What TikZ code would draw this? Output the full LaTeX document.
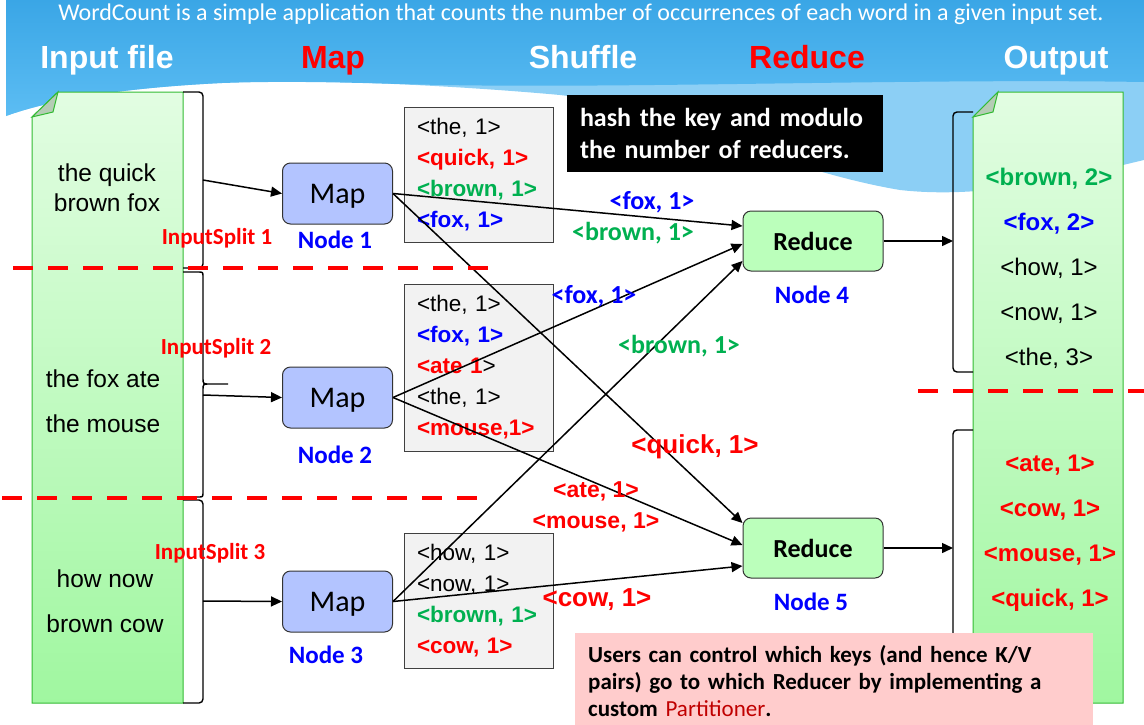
\documentclass[tikz,border=0pt]{standalone}
\usepackage{fontspec}
\setmainfont{Liberation Sans}
\newfontfamily\carlito{Carlito}
\usetikzlibrary{arrows.meta,positioning,calc,shapes.geometric}
\definecolor{skytop}{RGB}{58,166,230}
\definecolor{skybot}{RGB}{92,189,243}
\definecolor{skylight}{RGB}{140,207,245}
\definecolor{docgreen}{RGB}{51,187,51}
\definecolor{doctop}{RGB}{226,253,226}
\definecolor{docbot}{RGB}{160,247,160}
\definecolor{foldgray}{RGB}{181,204,181}
\definecolor{mapblue}{RGB}{179,196,255}
\definecolor{redgreen}{RGB}{187,255,187}
\definecolor{kvgray}{RGB}{242,242,242}
\definecolor{kvgreen}{RGB}{0,176,80}
\definecolor{hintpink}{RGB}{255,204,204}
\definecolor{partred}{RGB}{192,0,0}
\newcommand{\kvred}[1]{\textcolor{red}{\bfseries #1}}
\newcommand{\kvgrn}[1]{\textcolor{kvgreen}{\bfseries #1}}
\newcommand{\kvblu}[1]{\textcolor{blue}{\bfseries #1}}

\begin{document}
\begin{tikzpicture}[x=1pt,y=-1pt,
  mapbox/.style={draw=black!80,fill=mapblue,line width=1pt,rounded corners=8pt,minimum width=110pt,minimum height=61pt,text depth=0pt,font=\carlito\fontsize{30}{30}\selectfont},
  redbox/.style={mapbox,fill=redgreen,minimum width=140pt,minimum height=60pt,font=\carlito\bfseries\fontsize{26}{26}\selectfont},
  kvbox/.style={draw=black!75,fill=kvgray,line width=0.8pt,minimum width=149pt,minimum height=135pt,text width=123pt,inner xsep=13pt,align=left,font=\fontsize{22.5}{31}\selectfont},
  nodelbl/.style={anchor=base,text=blue,font=\carlito\bfseries\fontsize{25}{25}\selectfont},
  splitlbl/.style={anchor=base,text=red,font=\carlito\bfseries\fontsize{23}{23}\selectfont},
  head/.style={anchor=base,font=\bfseries\fontsize{32}{32}\selectfont},
  edgelbl/.style={anchor=base,font=\carlito\bfseries\fontsize{26}{26}\selectfont},
  doc/.style={draw=docgreen,line width=1pt,top color=doctop,bottom color=docbot},
  brk/.style={line width=1.4pt,rounded corners=4pt},
  flow/.style={-{Triangle[length=11pt,width=10pt]},line width=1.5pt},
  cut/.style={red,line width=4.5pt,dash pattern=on 20pt off 15pt}]
\useasboundingbox (0,0) rectangle (1144,724);
% sky
\fill[skylight] (6,0) -- (1144,0) -- (1144,160) .. controls (1080,175) and (990,200) .. (900,190) .. controls (780,170) and (650,105) .. (560,95) .. controls (450,85) and (300,78) .. (222,83) .. controls (120,88) and (50,100) .. (6,116) -- cycle;
\shade[top color=skytop,bottom color=skybot] (6,0) -- (1144,0) -- (1144,82) .. controls (900,78) and (600,90) .. (400,84) .. controls (330,82) and (280,81) .. (222,83) .. controls (120,88) and (50,100) .. (6,116) -- cycle;
\node[anchor=base,text=white,font=\carlito\fontsize{24}{24}\selectfont] (title) at (581,20) {WordCount is a simple application that counts the number of occurrences of each word in a given input set.};
\node[head,text=white] (hin) at (107,68) {Input file};
\node[head,text=red] (hmap) at (333,68) {Map};
\node[head,text=white] (hshuf) at (583,68) {Shuffle};
\node[head,text=red] (hred) at (807,68) {Reduce};
\node[head,text=white] (hout) at (1056,68) {Output};
% files
\draw[doc] (58,92) -- (183,92) -- (183,703) -- (32,703) -- (32,117) -- cycle;
\filldraw[fill=foldgray,draw=docgreen,line width=1pt] (32,117) -- (58,92) -- (53,112) -- cycle;
\draw[doc] (998,92) -- (1123,92) -- (1123,703) -- (973,703) -- (973,117) -- cycle;
\filldraw[fill=foldgray,draw=docgreen,line width=1pt] (973,117) -- (998,92) -- (993,112) -- cycle;
\node[align=center,font=\fontsize{24.5}{30}\selectfont] (in1) at (107,188) {the quick\\brown fox};
\node[align=center,font=\fontsize{24.5}{45}\selectfont] (in2) at (103,401) {the fox ate\\the mouse};
\node[align=center,font=\fontsize{24.5}{45}\selectfont] (in3) at (105,601) {how now\\brown cow};
\node[align=center,font=\fontsize{24}{45}\selectfont] (out1) at (1049,268) {\kvgrn{<brown, 2>}\\\kvblu{<fox, 2>}\\<how, 1>\\<now, 1>\\<the, 3>};
\node[align=center,font=\fontsize{24}{45}\selectfont] (out2) at (1050,533) {\kvred{<ate, 1>}\\\kvred{<cow, 1>}\\\kvred{<mouse, 1>}\\\kvred{<quick, 1>}};
% brackets
\draw[brk] (183,92) -- (203,92) -- (203,268) -- (183,268);
\draw[line width=1.4pt] (183,272) -- (198,272) .. controls (203,272) .. (203,277) -- (203,378) .. controls (203,384) .. (210,384) -- (228,384) (210,384) .. controls (203,384) .. (203,390) -- (203,492) .. controls (203,497) .. (198,497) -- (183,497);
\draw[brk] (183,500) -- (203,500) -- (203,703) -- (183,703);
\draw[brk] (973,112) -- (953,112) -- (953,372) -- (973,372);
\draw[brk] (973,430) -- (953,430) -- (953,700) -- (973,700);
\coordinate (sp1) at (203,180);
\coordinate (sp2) at (203,395);
\coordinate (sp3) at (203,601);
\coordinate (res1) at (953,241);
\coordinate (res2) at (953,548);
% map side
\node[kvbox] (kv1) at (478.5,174.5) {<the, 1>\\\kvred{<quick, 1>}\\\kvgrn{<brown, 1>}\\\kvblu{<fox, 1>}};
\node[kvbox,minimum height=167pt] (kv2) at (478.5,367.5) {<the, 1>\\\kvblu{<fox, 1>}\\\kvred{<ate 1}>\\<the, 1>\\\kvred{<mouse,1>}};
\node[kvbox] (kv3) at (478.5,600.5) {<how, 1>\\<now, 1>\\\kvgrn{<brown, 1>}\\\kvred{<cow, 1>}};
\node[fill=black,text=white,minimum width=316pt,minimum height=77pt,text width=290pt,inner xsep=13pt,align=left,font=\carlito\bfseries\fontsize{26}{32}\selectfont] (hash) at (725,133.5) {hash the key and modulo\\the number of reducers.};
\node[mapbox] (map1) at (337.5,193.5) {Map};
\node[mapbox] (map2) at (337.5,397.5) {Map};
\node[mapbox] (map3) at (337.5,601.5) {Map};
\node[redbox] (red4) at (813,241) {Reduce};
\node[redbox] (red5) at (813,548) {Reduce};
\node[nodelbl] (n1) at (335,248) {Node 1};
\node[nodelbl] (n2) at (335,463) {Node 2};
\node[nodelbl] (n3) at (326,663) {Node 3};
\node[nodelbl] (n4) at (812,303) {Node 4};
\node[nodelbl] (n5) at (811,610) {Node 5};
\node[splitlbl] (is1) at (217,244) {InputSplit 1};
\node[splitlbl] (is2) at (216,354) {InputSplit 2};
\node[splitlbl] (is3) at (210,559) {InputSplit 3};
% flows
\draw[flow] (sp1) -- (map1.west);
\draw[flow] (sp2) -- (map2.west);
\draw[flow] (sp3) -- (map3.west);
\draw[flow] (map1.east) -- ([yshift=15pt]red4.west);
\draw[flow] (map2.east) -- ([yshift=-3pt]red4.west);
\draw[flow] (map3.east) -- ([yshift=-20pt]red4.west);
\draw[flow] (map1.east) -- ([yshift=25pt]red5.west);
\draw[flow] (map2.east) -- ([yshift=3pt]red5.west);
\draw[flow] (map3.east) -- ([yshift=-18pt]red5.west);
\draw[flow] (red4.east) -- (res1);
\draw[flow] (red5.east) -- (res2);
\node[edgelbl,text=blue] (e1) at (652,209) {<fox, 1>};
\node[edgelbl,text=kvgreen] (e2) at (633,240) {<brown, 1>};
\node[edgelbl,text=blue] (e3) at (594,303) {<fox, 1>};
\node[edgelbl,text=kvgreen] (e4) at (679,353) {<brown, 1>};
\node[anchor=base,text=red,font=\bfseries\fontsize{26}{26}\selectfont] (e5) at (695,453) {<quick, 1>};
\node[anchor=base,text=red,font=\bfseries\fontsize{23}{23}\selectfont] (e6) at (596,497) {<ate, 1>};
\node[anchor=base,text=red,font=\bfseries\fontsize{23}{23}\selectfont] (e7) at (596,528) {<mouse, 1>};
\node[anchor=base,text=red,font=\bfseries\fontsize{26}{26}\selectfont] (e8) at (597,606) {<cow, 1>};
% splits
\draw[cut] (13,268) -- (488,268);
\draw[cut] (2,498) -- (478,498);
\draw[cut] (918,391) -- (1144,391);
% note
\node[fill=hintpink,anchor=north west,minimum width=518pt,minimum height=95pt,text width=492pt,inner xsep=13pt,inner ysep=9pt,align=left,font=\carlito\bfseries\fontsize{23}{27}\selectfont] (note) at (575,633) {Users can control which keys (and hence K/V\\pairs) go to which Reducer by implementing a\\custom \textcolor{partred}{\mdseries Partitioner}.};
\end{tikzpicture}
\end{document}
